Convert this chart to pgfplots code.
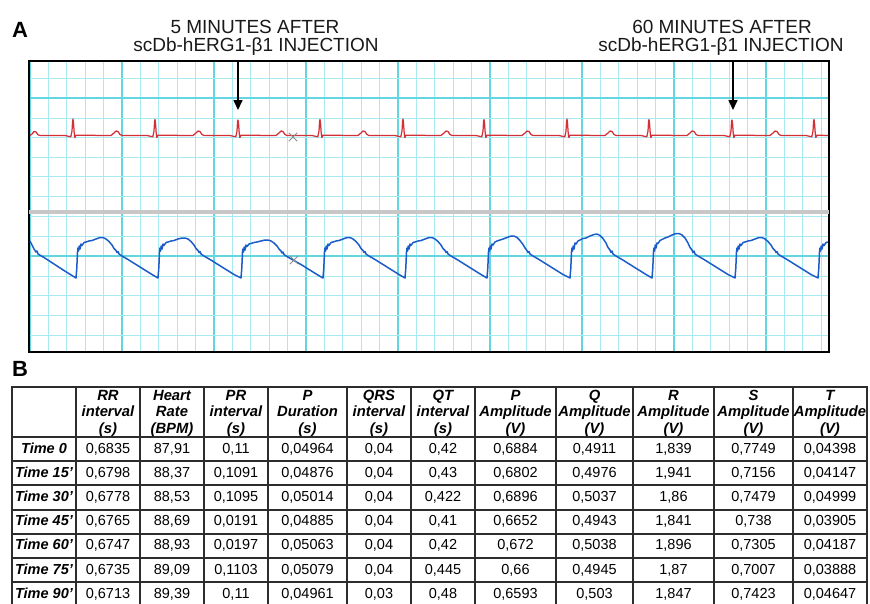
\documentclass[border=0pt]{standalone}
\usepackage{fontspec}
\setmainfont{Liberation Sans}
\usepackage{pgfplots}
\pgfplotsset{compat=1.18}
\usetikzlibrary{arrows.meta}

\definecolor{gridminor}{RGB}{168,234,241}
\definecolor{gridmajor}{RGB}{100,214,226}
\definecolor{ecgred}{RGB}{212,48,56}
\definecolor{ecgblue}{RGB}{28,92,200}
\definecolor{tabline}{RGB}{45,45,45}

% one table row: baseline, row label, the eleven values
\newcommand{\tabrow}[3]{%
  \node[lab] at (44,#1) {#2};
  \foreach \v [count=\c] in {#3} {%
    \pgfmathsetmacro\cx{{108,172,236,307.5,379,443,515.5,594.5,673.5,753.5,830}[\c-1]}
    \node[val] at (\cx,#1) {\v};
  }%
}

\begin{document}
\begin{tikzpicture}
\useasboundingbox (0pt,0pt) rectangle (870pt,-603pt);

\begin{axis}[
    at={(29pt,-61pt)}, anchor=north west,
    scale only axis, width=800pt, height=291pt,
    xmin=29, xmax=829, ymin=61, ymax=352, y dir=reverse,
    axis line style={line width=2.2pt, black},
    xtick={30,122,...,766},
    minor xtick={30,48.4,...,829},
    ytick={98,256},
    minor ytick={59,78.5,118,137.5,157,176.5,196,216,236,276,295.5,315,335},
    xticklabels={}, yticklabels={},
    major tick length=0pt, minor tick length=0pt,
    grid=both,
    major grid style={gridmajor, line width=1.1pt},
    minor grid style={gridminor, line width=0.9pt},
]
% channel separator
\draw[black!22, line width=3.8pt] (axis cs:29,212) -- (axis cs:829,212);

% ECG lead (red)
\addplot[ecgred, line width=1.25pt, line join=round] coordinates {
(30,135.5) (32,134) (34,131.5) (36,132) (38,134.8) (40,135.5)
(65,135.5) (70.8,136.8) (72,131) (72.6,121) (73,119) (73.6,124) (74.2,133) (74.8,137.5) (76,135.2) (111,135.5) (114,133) (116,131) (118,131.5) (120,134.5) (122,135.5)
(147,135.5) (152.8,136.8) (154,131) (154.6,121) (155,119.5) (155.6,124) (156.2,133) (156.8,137.5) (158,135.2) (193,135.5) (196,133) (198,131) (200,131.5) (202,134.5) (204,135.5)
(230,135.5) (235.8,136.8) (237,131) (237.6,121) (238,120) (238.6,124) (239.2,133) (239.8,137.5) (241,135.2) (276,135.5) (279,133) (281,131) (283,131.5) (285,134.5) (287,135.5)
(312,135.5) (317.8,136.8) (319,131) (319.6,121) (320,119.5) (320.6,124) (321.2,133) (321.8,137.5) (323,135.2) (358,135.5) (361,133) (363,131) (365,131.5) (367,134.5) (369,135.5)
(395,135.5) (400.8,136.8) (402,131) (402.6,121) (403,119) (403.6,124) (404.2,133) (404.8,137.5) (406,135.2) (441,135.5) (444,133) (446,131) (448,131.5) (450,134.5) (452,135.5)
(476,135.5) (481.8,136.8) (483,131) (483.6,121) (484,119.5) (484.6,124) (485.2,133) (485.8,137.5) (487,135.2) (522,135.5) (525,133) (527,131) (529,131.5) (531,134.5) (533,135.5)
(559,135.5) (564.8,136.8) (566,131) (566.6,121) (567,119) (567.6,124) (568.2,133) (568.8,137.5) (570,135.2) (605,135.5) (608,133) (610,131) (612,131.5) (614,134.5) (616,135.5)
(641,135.5) (646.8,136.8) (648,131) (648.6,121) (649,119.5) (649.6,124) (650.2,133) (650.8,137.5) (652,135.2) (687,135.5) (690,133) (692,131) (694,131.5) (696,134.5) (698,135.5)
(724,135.5) (729.8,136.8) (731,131) (731.6,121) (732,120) (732.6,124) (733.2,133) (733.8,137.5) (735,135.2) (770,135.5) (773,133) (775,131) (777,131.5) (779,134.5) (781,135.5)
(806,135.5) (811.8,136.8) (813,131) (813.6,121) (814,119.5) (814.6,124) (815.2,133) (815.8,137.5) (817,135.2) (828,135.5)
};

% pressure-like trace (blue)
\addplot[ecgblue, line width=1.5pt, line join=round] coordinates {
(30,241) (32,245) (34,249) (36,252) (37,251) (38,254) (44,257.5) (54,264) (64,270.5) (72,275.5)
(76,278) (76.8,268) (77.5,252) (78,248) (78.6,251) (79.2,246) (80,249) (81,244) (82,245.5) (84,242.5) (86,242) (89,241) (92,240.5) (96,239) (100,237.5) (103,237.5) (106,239) (109,241.5) (112,245) (114,248.5) (116,250.5) (117,252.5) (118,251.5) (119,254) (122,256) (128,259.5) (136,264.5) (144,269.5) (152,274.5)
(158,278) (158.8,268) (159.5,252) (160,248) (160.6,251) (161.2,246) (162,249) (163,244) (164,245.5) (166,242.5) (168,242) (171,241) (174,240.5) (178,239) (182,238) (185,238) (188,239) (191,241.5) (194,245) (196,248.5) (198,250.5) (199,252.5) (200,251.5) (201,254) (204,256) (210,259.5) (218,264.5) (226,269.5) (234,274.5)
(241,278) (241.8,268) (242.5,252) (243,249) (243.6,252) (244.2,247) (245,250) (246,245) (247,246.5) (249,244) (251,243.5) (254,242.5) (257,242) (261,241) (265,240) (268,240) (271,241) (274,243) (277,246) (279,249) (281,251) (282,253) (283,252) (284,254.5) (287,256.5) (293,260) (301,264.5) (309,269.5) (317,274.5)
(323,278) (323.8,268) (324.5,252) (325,248) (325.6,251) (326.2,246) (327,249) (328,244) (329,245.5) (331,242.5) (333,242) (336,241) (339,240.5) (343,239) (347,237.5) (350,237.5) (353,239) (356,241.5) (359,245) (361,248.5) (363,250.5) (364,252.5) (365,251.5) (366,254) (369,256) (375,259.5) (383,264.5) (391,269.5) (399,274.5)
(405,278) (405.8,268) (406.5,252) (407,248) (407.6,251) (408.2,246) (409,249) (410,244) (411,245.5) (413,242.5) (415,242) (418,241) (421,240.5) (425,239) (429,237.5) (432,237.5) (435,239) (438,241.5) (441,245) (443,248.5) (445,250.5) (446,252.5) (447,251.5) (448,254) (451,256) (457,259.5) (465,264.5) (473,269.5) (481,274.5)
(487,278) (487.8,268) (488.5,252) (489,248) (489.6,251) (490.2,246) (491,249) (492,244) (493,245) (495,242) (497,241) (500,240) (503,239) (507,237.5) (511,236) (514,236) (517,237.5) (520,240.5) (523,244.5) (525,248) (527,250.5) (528,252.5) (529,251.5) (530,254) (533,256) (539,259.5) (547,264.5) (555,269.5) (563,274.5)
(570,278) (570.8,268) (571.5,252) (572,248) (572.6,251) (573.2,246) (574,249) (575,243) (576,244) (578,241) (580,240) (583,238.5) (586,238) (590,236) (594,234.5) (597,234) (600,235.5) (603,238.5) (606,243) (608,247.5) (610,250) (611,252.5) (612,251) (613,254) (616,256) (622,259.5) (630,264.5) (638,269.5) (646,274.5)
(652,278) (652.8,268) (653.5,252) (654,248) (654.6,251) (655.2,245) (656,248) (657,243) (658,243.5) (660,240.5) (662,239.5) (665,238) (668,237) (672,235) (676,233.5) (679,233.5) (682,235) (685,238) (688,243) (690,247.5) (692,250) (693,252.5) (694,251) (695,254) (698,256) (704,259.5) (712,264.5) (720,269.5) (728,274.5)
(735,278) (735.8,268) (736.5,252) (737,248) (737.6,251) (738.2,246) (739,249) (740,244) (741,245.5) (743,242.5) (745,242) (748,241) (751,240.5) (755,239) (759,237.5) (762,237.5) (765,239) (768,241.5) (771,245) (773,248.5) (775,250.5) (776,252.5) (777,251.5) (778,254) (781,256) (787,259.5) (795,264.5) (803,269.5) (811,274.5)
(818,278) (818.8,268) (819.5,252) (820,248) (820.6,251) (821.2,246) (822,249) (823,244) (824,245.5) (826,242.5) (828,242)
};

% cursor marks
\addplot[only marks, mark=x, mark size=6pt, black!45, line width=1pt] coordinates {(293,137) (294,260)};

% injection arrows
\draw[-{Triangle[length=10pt,width=9pt]}, line width=1.6pt] (axis cs:238,61) -- (axis cs:238,110);
\draw[-{Triangle[length=10pt,width=9pt]}, line width=1.6pt] (axis cs:733,61) -- (axis cs:733,110);
\end{axis}

\begin{scope}[x=1pt, y=-1pt,
    val/.style={anchor=base, inner sep=0pt, font=\fontsize{14.5}{16}\selectfont},
    lab/.style={anchor=base, inner sep=0pt, font=\fontsize{14.5}{16}\selectfont\bfseries\itshape},
    hdr/.style={anchor=base, inner sep=0pt, font=\fontsize{14.8}{16}\selectfont\bfseries\itshape},
    ann/.style={anchor=base, inner sep=0pt, text=black!90, font=\fontsize{19}{19}\selectfont}]
% panel letters
\node[anchor=base west, inner sep=0pt, font=\fontsize{22}{22}\selectfont\bfseries] at (12,37) {A};
\node[anchor=base west, inner sep=0pt, font=\fontsize{22}{22}\selectfont\bfseries] at (12,376) {B};

% annotations
\node[ann] at (255,33.5) {5 MINUTES AFTER};
\node[ann] at (256,51.5) {scDb-hERG1-β1 INJECTION};
\node[ann] at (722,33.5) {60 MINUTES AFTER};
\node[ann] at (721,51.5) {scDb-hERG1-β1 INJECTION};

% table rules
\foreach \x in {12,76,140,204,268,347,411,475,556,633,714,793,867}
  \draw[tabline, line width=2pt] (\x,386) -- (\x,610);
\foreach \y in {387,437,461.2,485.4,509.6,533.8,558,582.2}
  \draw[tabline, line width=2pt] (11,\y) -- (868,\y);

% header
\foreach \cx/\a/\b/\c in {108/RR/interval/(s), 172/Heart/Rate/(BPM), 236/PR/interval/(s),
    307.5/P/Duration/(s), 379/QRS/interval/(s), 443/QT/interval/(s),
    515.5/P/Amplitude/(V), 594.5/Q/Amplitude/(V), 673.5/R/Amplitude/(V),
    753.5/S/Amplitude/(V), 830/T/Amplitude/(V)} {
  \node[hdr] at (\cx,400) {\a};
  \node[hdr] at (\cx,416.5) {\b};
  \node[hdr] at (\cx,433) {\c};
}

% body
\tabrow{453}{Time 0}{{0,6835},{87,91},{0,11},{0,04964},{0,04},{0,42},{0,6884},{0,4911},{1,839},{0,7749},{0,04398}}
\tabrow{477.2}{Time 15'}{{0,6798},{88,37},{0,1091},{0,04876},{0,04},{0,43},{0,6802},{0,4976},{1,941},{0,7156},{0,04147}}
\tabrow{501.4}{Time 30'}{{0,6778},{88,53},{0,1095},{0,05014},{0,04},{0,422},{0,6896},{0,5037},{1,86},{0,7479},{0,04999}}
\tabrow{525.6}{Time 45'}{{0,6765},{88,69},{0,0191},{0,04885},{0,04},{0,41},{0,6652},{0,4943},{1,841},{0,738},{0,03905}}
\tabrow{549.8}{Time 60'}{{0,6747},{88,93},{0,0197},{0,05063},{0,04},{0,42},{0,672},{0,5038},{1,896},{0,7305},{0,04187}}
\tabrow{574}{Time 75'}{{0,6735},{89,09},{0,1103},{0,05079},{0,04},{0,445},{0,66},{0,4945},{1,87},{0,7007},{0,03888}}
\tabrow{598.2}{Time 90'}{{0,6713},{89,39},{0,11},{0,04961},{0,03},{0,48},{0,6593},{0,503},{1,847},{0,7423},{0,04647}}
\end{scope}
\end{tikzpicture}
\end{document}
